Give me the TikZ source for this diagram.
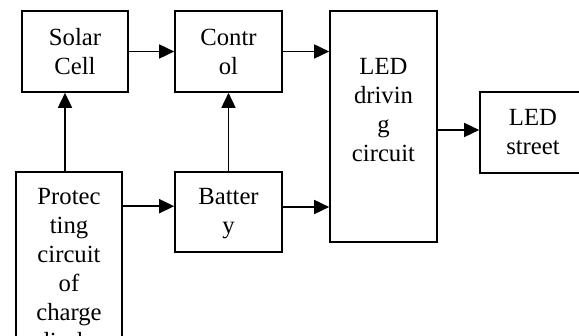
\documentclass[tikz,border=0pt]{standalone}
\usepackage{fontspec}
\setmainfont{Liberation Serif}
\usetikzlibrary{arrows.meta}
\begin{document}
\begin{tikzpicture}[x=1pt,y=-1pt,
  box/.style={draw, line width=1.6pt, inner sep=0pt, minimum width=106pt},
  lbl/.style={anchor=north, align=center, inner sep=0pt, font=\fontsize{24.7}{29}\selectfont},
  arr/.style={line width=1.6pt, -{Triangle[length=15pt,width=14pt]}}]
\useasboundingbox (0,0) rectangle (579,336);
\clip (0,0) rectangle (579,336);
\node[box, minimum height=81pt] (solar) at (75,51.5) {};
\node[box, minimum width=107pt, minimum height=81pt] (control) at (228.5,51.5) {};
\node[box, minimum width=107pt, minimum height=231pt] (led) at (383.5,126.5) {};
\node[box, minimum height=81pt] (street) at (533,132.5) {};
\node[box, minimum height=188pt] (protect) at (69,266) {};
\node[box, minimum width=107pt, minimum height=80pt] (battery) at (228.5,212) {};
\node[lbl] (solarT) at (75,24.7) {\strut Solar\\Cell};
\node[lbl] (controlT) at (228.5,24.7) {\strut Contr\\ol};
\node[lbl] (ledT) at (383.5,53.7) {\strut LED\\drivin\\g\\circuit};
\node[lbl] (streetT) at (533,104.7) {\strut LED\\street};
\node[lbl] (protectT) at (69,183.7) {\strut Protec\\ting\\circuit\\of\\charge\\discha};
\node[lbl] (batteryT) at (228.5,183.7) {\strut Batter\\y};
\coordinate (p1) at ([yshift=-35pt]protect.north east);
\coordinate (b1) at ([yshift=5pt]battery.east);
\coordinate (s1) at ([yshift=2.5pt]street.west);
\coordinate (p2) at ([xshift=-4pt]protect.north);
\draw[arr] (solar.east) -- (control.west);
\draw[arr] (control.east) -- (control.east -| led.west);
\draw[arr] (p1) -- (p1 -| battery.west);
\draw[arr] (b1) -- (b1 -| led.west);
\draw[arr] (s1 -| led.east) -- (s1);
\draw[arr] (p2) -- (p2 |- solar.south);
\draw[arr] (battery.north) -- (control.south);
\end{tikzpicture}
\end{document}
